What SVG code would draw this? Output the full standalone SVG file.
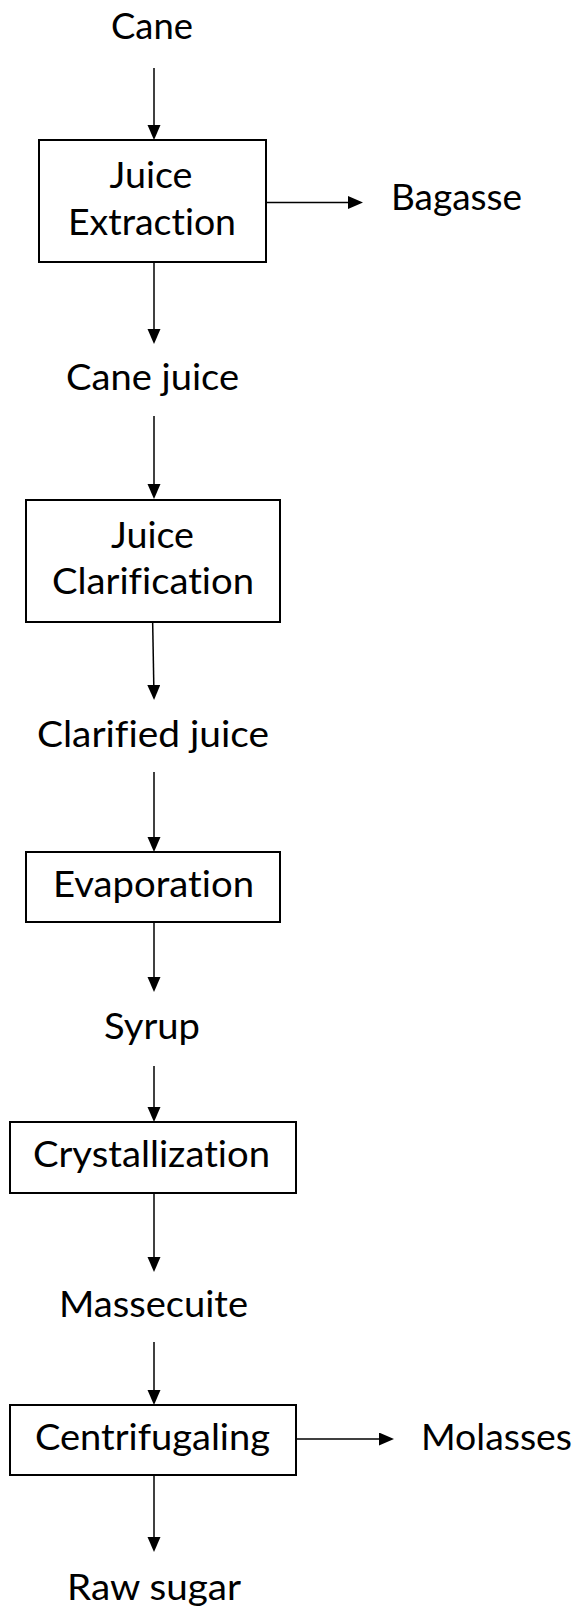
<svg xmlns="http://www.w3.org/2000/svg" width="581" height="1610" viewBox="0 0 581 1610">
<style>
.box{fill:#fff;stroke:#000;stroke-width:2}
.t{font-family:Lato,"Open Sans","Liberation Sans",sans-serif;font-size:36px;fill:#000;text-anchor:middle;font-variant-ligatures:none;font-feature-settings:"liga" 0}
.tl{font-family:Lato,"Open Sans","Liberation Sans",sans-serif;font-size:36px;fill:#000;text-anchor:start;font-variant-ligatures:none;font-feature-settings:"liga" 0}
.c{stroke:#000;stroke-width:1.5;fill:none;marker-end:url(#ah)}
</style>
<defs>
<marker id="ah" markerUnits="userSpaceOnUse" markerWidth="16" markerHeight="14" refX="12" refY="6.5" orient="auto" viewBox="0 0 16 14">
<path d="M0,0 L15,6.5 L0,13 Z" fill="#000"/>
</marker>
</defs>
<rect width="581" height="1610" fill="#fff"/>
<g id="connectors">
<line class="c" x1="154" y1="68" x2="154" y2="137"/>
<line class="c" x1="154" y1="263" x2="154" y2="341"/>
<line class="c" x1="154" y1="416" x2="154" y2="496"/>
<line class="c" x1="152.5" y1="613" x2="154" y2="697"/>
<line class="c" x1="154" y1="772" x2="154" y2="849"/>
<line class="c" x1="154" y1="923" x2="154" y2="989"/>
<line class="c" x1="154" y1="1066" x2="154" y2="1119"/>
<line class="c" x1="154" y1="1194" x2="154" y2="1269"/>
<line class="c" x1="154" y1="1342" x2="154" y2="1402"/>
<line class="c" x1="154" y1="1476" x2="154" y2="1549"/>
<line class="c" x1="266" y1="202.5" x2="360" y2="202.5"/>
<line class="c" x1="296" y1="1439" x2="391" y2="1439"/>
</g>
<g id="cane"><text class="t" x="152" y="39" textLength="82" lengthAdjust="spacingAndGlyphs">Cane</text></g>
<g id="juice-extraction">
<rect class="box" x="39" y="140" width="227" height="122"/>
<text class="t" x="151" y="188" textLength="83" lengthAdjust="spacingAndGlyphs">Juice</text>
<text class="t" x="152" y="235" textLength="168" lengthAdjust="spacingAndGlyphs">Extraction</text>
</g>
<g id="bagasse"><text class="tl" x="391" y="210" textLength="131" lengthAdjust="spacingAndGlyphs">Bagasse</text></g>
<g id="cane-juice"><text class="t" x="152.5" y="390" textLength="173" lengthAdjust="spacingAndGlyphs">Cane juice</text></g>
<g id="juice-clarification">
<rect class="box" x="26" y="500" width="254" height="122"/>
<text class="t" x="152.5" y="548" textLength="83" lengthAdjust="spacingAndGlyphs">Juice</text>
<text class="t" x="153" y="594" textLength="202" lengthAdjust="spacingAndGlyphs">Clarification</text>
</g>
<g id="clarified-juice"><text class="t" x="153" y="747" textLength="232" lengthAdjust="spacingAndGlyphs">Clarified juice</text></g>
<g id="evaporation">
<rect class="box" x="26" y="852" width="254" height="70"/>
<text class="t" x="153.5" y="897" textLength="201" lengthAdjust="spacingAndGlyphs">Evaporation</text>
</g>
<g id="syrup"><text class="t" x="152" y="1039" textLength="96" lengthAdjust="spacingAndGlyphs">Syrup</text></g>
<g id="crystallization">
<rect class="box" x="10" y="1122" width="286" height="71"/>
<text class="t" x="151.5" y="1167" textLength="237" lengthAdjust="spacingAndGlyphs">Crystallization</text>
</g>
<g id="massecuite"><text class="t" x="153.5" y="1317" textLength="189" lengthAdjust="spacingAndGlyphs">Massecuite</text></g>
<g id="centrifugaling">
<rect class="box" x="10" y="1405" width="286" height="70"/>
<text class="t" x="152.5" y="1450" textLength="235" lengthAdjust="spacingAndGlyphs">Centrifugaling</text>
</g>
<g id="molasses"><text class="tl" x="421" y="1450" textLength="151" lengthAdjust="spacingAndGlyphs">Molasses</text></g>
<g id="raw-sugar"><text class="t" x="154" y="1600" textLength="174" lengthAdjust="spacingAndGlyphs">Raw sugar</text></g>
</svg>
